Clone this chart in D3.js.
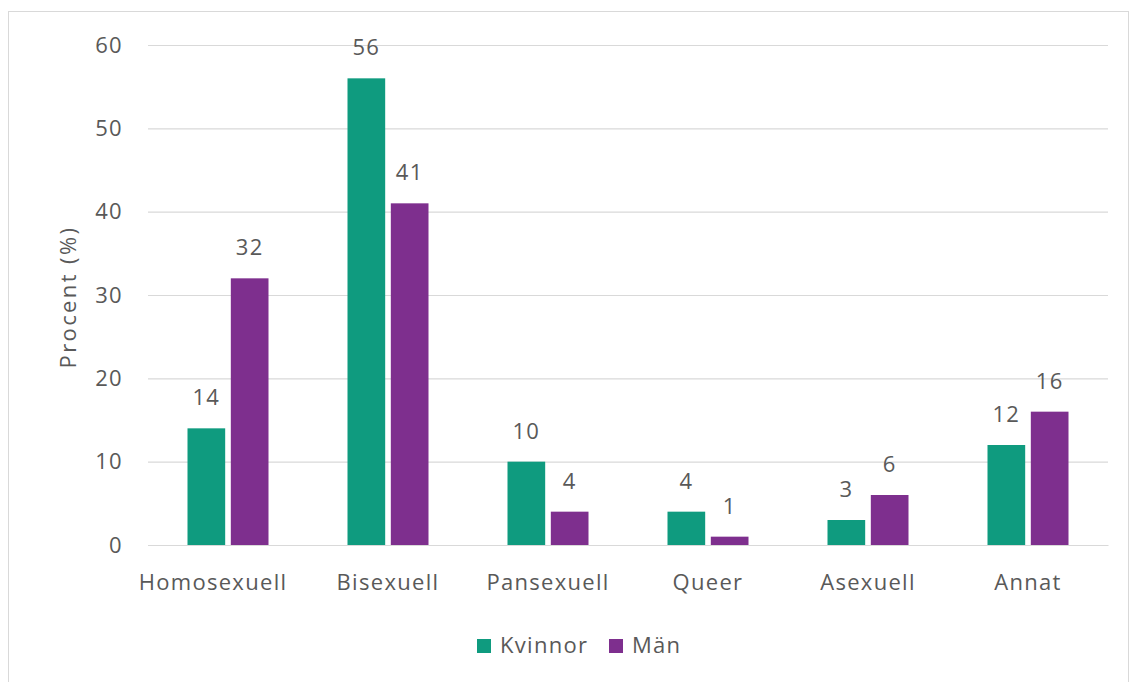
<!DOCTYPE html>
<html>
<head>
<meta charset="utf-8">
<script src="https://cdn.jsdelivr.net/npm/d3@7"></script>
<style>
  html, body { margin: 0; padding: 0; background: #fff; }
  svg { display: block; }
  text { font-family: "Open Sans", "Noto Sans", sans-serif; fill: #595959; }
</style>
</head>
<body>
<svg id="chart" width="1131" height="682"></svg>
<script>
// Sexual orientation by gender, percent
const categories = ["Homosexuell", "Bisexuell", "Pansexuell", "Queer", "Asexuell", "Annat"];
const seriesNames = ["Kvinnor", "Män"];
const kvinnor = [14, 56, 10, 4, 3, 12];
const man = [32, 41, 4, 1, 6, 16];
const yTicks = [0, 10, 20, 30, 40, 50, 60];
const colors = ["#0f9b7f", "#7e2f8e"];

const svg = d3.select("#chart");
const W = 1131, H = 682;
const margin = { left: 148, right: 23, top: 45, bottom: 137 };
const FS = 22, LS = "1.3px";

// outer chart frame
svg.append("rect")
  .attr("x", 8.5).attr("y", 11.5)
  .attr("width", 1120).attr("height", 680)
  .attr("fill", "#fff").attr("stroke", "#d9d9d9").attr("stroke-width", 1);

const x = d3.scaleBand().domain(categories)
  .range([margin.left, W - margin.right]);
const xs = d3.scaleBand().domain(seriesNames)
  .range([0, 81]).paddingInner(0.13);
const y = d3.scaleLinear().domain([0, 60])
  .range([H - margin.bottom, margin.top]);

// gridlines and y tick labels
const yAxis = d3.axisLeft(y).tickValues(yTicks)
  .tickSize(-(W - margin.left - margin.right)).tickPadding(25);
const gy = svg.append("g").attr("transform", `translate(${margin.left},0)`).call(yAxis);
gy.select(".domain").remove();
gy.selectAll(".tick line").attr("stroke", "#d9d9d9").attr("stroke-width", 1.2);
gy.selectAll(".tick text").attr("font-size", FS).style("fill", "#595959")
  .attr("font-family", "'Open Sans', sans-serif").attr("letter-spacing", LS);

// x axis labels; the long first label is nudged left to stay inside the frame
const xAxis = d3.axisBottom(x).tickSize(0).tickPadding(29);
const gx = svg.append("g").attr("transform", `translate(0,${H - margin.bottom})`).call(xAxis);
gx.select(".domain").attr("stroke", "#d9d9d9").attr("stroke-width", 1.2);
gx.selectAll(".tick text").attr("font-size", FS).style("fill", "#595959")
  .attr("font-family", "'Open Sans', sans-serif").attr("letter-spacing", LS)
  .attr("dx", (d, i) => i === 0 ? -15 : 0);

const data = categories.map((c, i) => ({ cat: c, vals: [
  { s: seriesNames[0], v: kvinnor[i] },
  { s: seriesNames[1], v: man[i] }
]}));

const groups = svg.selectAll("g.cat").data(data).join("g")
  .attr("class", "cat")
  .attr("transform", d => `translate(${x(d.cat) + x.bandwidth() / 2 - 40.5},0)`);

groups.selectAll("rect").data(d => d.vals).join("rect")
  .attr("x", d => xs(d.s))
  .attr("width", xs.bandwidth())
  .attr("y", d => y(d.v))
  .attr("height", d => y(0) - y(d.v))
  .attr("fill", (d, i) => colors[i]);

groups.selectAll("text.val").data(d => d.vals).join("text")
  .attr("class", "val")
  .attr("x", d => xs(d.s) + xs.bandwidth() / 2)
  .attr("y", d => y(d.v) - 23)
  .attr("text-anchor", "middle")
  .attr("font-size", FS)
  .attr("letter-spacing", LS)
  .text(d => d.v);

// y axis title
svg.append("text")
  .attr("transform", "translate(76,297) rotate(-90)")
  .attr("text-anchor", "middle")
  .attr("font-size", FS)
  .attr("letter-spacing", "2.4px")
  .text("Procent (%)");

// legend
const legend = svg.append("g").attr("transform", "translate(477,639)");
const legendX = [0, 132];
seriesNames.forEach((n, i) => {
  const g = legend.append("g").attr("transform", `translate(${legendX[i]},0)`);
  g.append("rect").attr("width", 14).attr("height", 14).attr("fill", colors[i]);
  g.append("text").attr("x", 23).attr("y", 14).attr("font-size", FS)
    .attr("letter-spacing", LS).text(n);
});
</script>
</body>
</html>
